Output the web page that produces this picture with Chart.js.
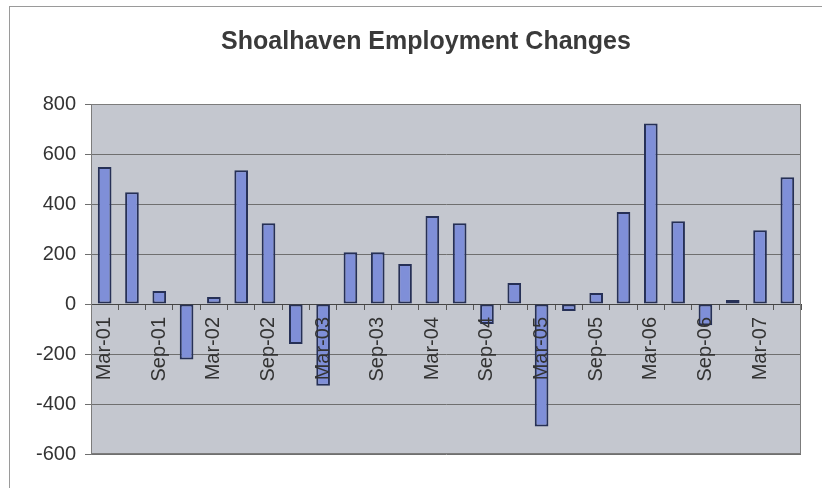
<!DOCTYPE html>
<html>
<head>
<meta charset="utf-8">
<title>Shoalhaven Employment Changes</title>
<script src="https://cdn.jsdelivr.net/npm/chart.js@4/dist/chart.umd.min.js"></script>
<style>
    html, body { margin: 0; padding: 0; background: #ffffff; overflow: hidden; }
    #wrap { position: relative; width: 822px; height: 488px; }
    /* chart frame, only the left and top edges fall inside the window */
    #frame {
        position: absolute; left: 9px; top: 6px; width: 900px; height: 600px;
        border: 1px solid #9a9a9a; box-sizing: border-box;
    }
    #employmentChart { position: absolute; left: 0; top: 0; }
</style>
</head>
<body>
<div id="wrap">
    <div id="frame"></div>
    <canvas id="employmentChart" width="822" height="488"></canvas>
</div>
<script>
// Quarterly employment change, Mar-01 to Jun-07
const quarters = [
    'Mar-01', 'Jun-01', 'Sep-01', 'Dec-01',
    'Mar-02', 'Jun-02', 'Sep-02', 'Dec-02',
    'Mar-03', 'Jun-03', 'Sep-03', 'Dec-03',
    'Mar-04', 'Jun-04', 'Sep-04', 'Dec-04',
    'Mar-05', 'Jun-05', 'Sep-05', 'Dec-05',
    'Mar-06', 'Jun-06', 'Sep-06', 'Dec-06',
    'Mar-07', 'Jun-07'
];
const employmentChange = [
    548, 447, 52, -222,
    28, 535, 323, -160,
    -327, 207, 207, 160,
    352, 323, -80, 84,
    -490, -28, 44, 368,
    722, 331, -85, 16,
    295, 507
];
// only every second quarter gets a label on the axis
const labelledQuarters = ['Mar-01', 'Sep-01', 'Mar-02', 'Sep-02', 'Mar-03', 'Sep-03',
    'Mar-04', 'Sep-04', 'Mar-05', 'Sep-05', 'Mar-06', 'Sep-06', 'Mar-07'];
const yMin = -600;
const yMax = 800;
const yStep = 200;

// Grey plot area with a thin frame
const plotBackground = {
    id: 'plotBackground',
    afterLayout(chart) {
        // the y scale is kept narrow so the title centres further right;
        // widen its clip box back to the canvas edge so tick labels show
        chart.scales.y.left = 0;
    },
    beforeDraw(chart) {
        const { ctx, chartArea: a } = chart;
        ctx.save();
        ctx.fillStyle = '#c4c7cf';
        ctx.fillRect(a.left, a.top, a.right - a.left, a.bottom - a.top);
        ctx.restore();
    },
    afterDraw(chart) {
        const { ctx, chartArea: a } = chart;
        ctx.save();
        ctx.strokeStyle = '#7c7c7c';
        ctx.lineWidth = 1;
        ctx.strokeRect(a.left + 0.5, a.top + 0.5, a.right - a.left - 1, a.bottom - a.top - 1);
        ctx.restore();
    }
};

const ctx = document.getElementById('employmentChart').getContext('2d');
window.myChart = new Chart(ctx, {
    type: 'bar',
    data: {
        labels: quarters,
        datasets: [{
            label: 'Employment change',
            data: employmentChange,
            backgroundColor: '#7f8fd8',
            borderColor: '#263056',
            borderWidth: 2,
            borderSkipped: false,
            barPercentage: 0.5,
            categoryPercentage: 1.0
        }]
    },
    plugins: [plotBackground],
    options: {
        responsive: false,
        animation: false,
        layout: {
            padding: { left: 51, right: 21, top: 0, bottom: 34 }
        },
        plugins: {
            legend: { display: false },
            tooltip: { enabled: false },
            title: {
                display: true,
                text: 'Shoalhaven Employment Changes',
                color: '#3a3a3a',
                font: { family: 'Liberation Sans, Arial, sans-serif', size: 25, weight: 'bold' },
                padding: { top: 27, bottom: 47 }
            }
        },
        scales: {
            x: {
                position: { y: 0 },
                grid: {
                    drawOnChartArea: false,
                    drawTicks: true,
                    tickLength: 5,
                    color: '#555555'
                },
                border: { display: true, color: '#444444', width: 1 },
                ticks: {
                    // axis labels sit on top of the bars
                    z: 1,
                    autoSkip: false,
                    minRotation: 90,
                    maxRotation: 90,
                    padding: 8,
                    color: '#333333',
                    font: { family: 'Liberation Sans, Arial, sans-serif', size: 20 },
                    callback: function (value, index) {
                        const q = this.getLabelForValue(value);
                        return labelledQuarters.includes(q) ? q : '';
                    }
                }
            },
            y: {
                min: yMin,
                max: yMax,
                afterFit: function (scale) {
                    scale.width = 40;
                },
                grid: {
                    color: '#6f6f6f',
                    lineWidth: 1,
                    tickLength: 6
                },
                border: { display: true, color: '#7c7c7c' },
                ticks: {
                    stepSize: yStep,
                    padding: 9,
                    color: '#333333',
                    font: { family: 'Liberation Sans, Arial, sans-serif', size: 20 }
                }
            }
        }
    }
});
</script>
</body>
</html>
